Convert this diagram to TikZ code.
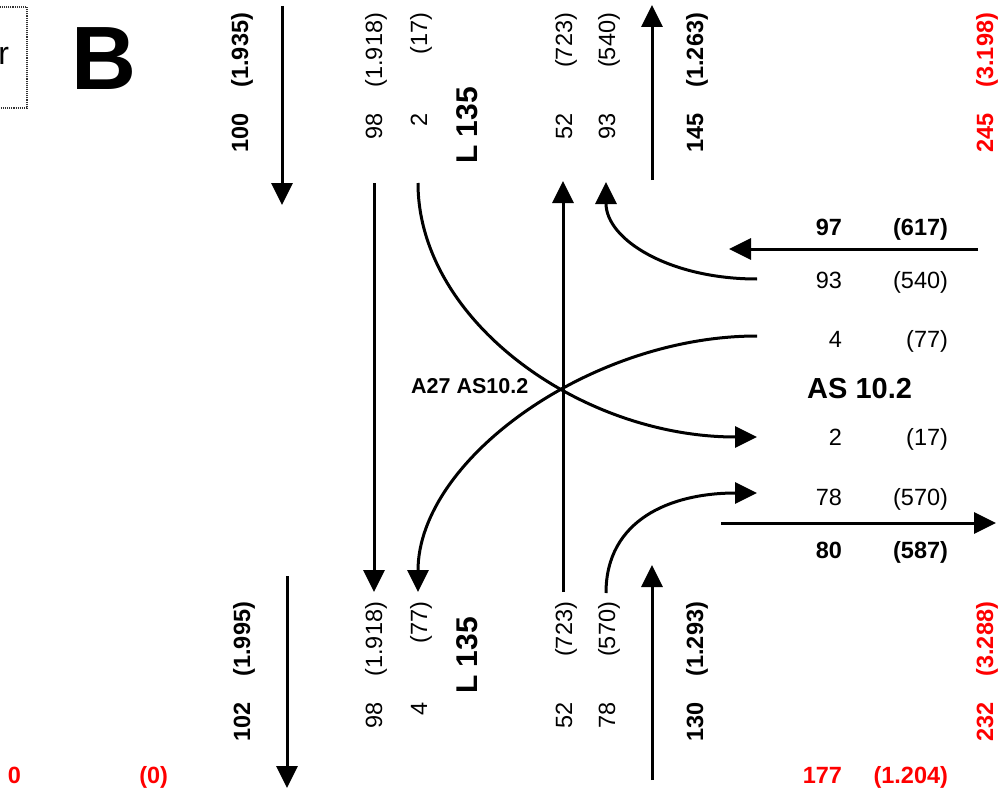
\documentclass[tikz,border=0pt]{standalone}
\usepackage{fontspec}
\setmainfont{Liberation Sans}
\usetikzlibrary{arrows.meta}
\tikzset{
  txt/.style={inner sep=0pt, outer sep=0pt, anchor=base east, font=\fontsize{23.5}{28}\selectfont},
  btxt/.style={txt, font=\fontsize{23.5}{28}\selectfont\bfseries},
  redtxt/.style={btxt, text=red},
  vtxt/.style={txt, rotate=90},
  vbtxt/.style={btxt, rotate=90},
  vredtxt/.style={redtxt, rotate=90},
  bigL/.style={inner sep=0pt, outer sep=0pt, anchor=base east, rotate=90, font=\fontsize{30}{34}\selectfont\bfseries},
  flow/.style={line width=3pt, -{Triangle[length=22pt,width=21pt]}},
  framebox/.style={draw=black!80, densely dotted, line width=1.1pt}
}
\begin{document}
\begin{tikzpicture}[x=1pt,y=-1pt]
\clip (0,0) rectangle (1004,789);
\fill[white] (0,0) rectangle (1004,789);

% corner box and panel letter
\draw[framebox] (-20,7) rectangle (27,108);
\node[inner sep=0pt, outer sep=0pt, anchor=base east, font=\fontsize{32}{36}\selectfont] (r) at (9,65) {r};
\node[inner sep=0pt, anchor=base west, font=\fontsize{90}{96}\selectfont\bfseries] (B) at (71,90) {B};

% top rotated labels
\node[vbtxt] (t100) at (248,113) {100};
\node[vbtxt] (t1935) at (248,13) {(1.935)};
\node[vtxt] (t98) at (382,113) {98};
\node[vtxt] (t1918) at (382,13) {(1.918)};
\node[vtxt] (t2) at (427,113) {2};
\node[vtxt] (t17) at (427,13) {(17)};
\node[bigL] (tL) at (477,87) {L 135};
\node[vtxt] (t52) at (572,113) {52};
\node[vtxt] (t723) at (572,13) {(723)};
\node[vtxt] (t93) at (615,113) {93};
\node[vtxt] (t540) at (615,13) {(540)};
\node[vbtxt] (t145) at (703,113) {145};
\node[vbtxt] (t1263) at (703,13) {(1.263)};
\node[vredtxt] (t245) at (993,113) {245};
\node[vredtxt] (t3198) at (993,13) {(3.198)};

% bottom rotated labels
\node[vbtxt] (b102) at (250,702) {102};
\node[vbtxt] (b1995) at (250,602) {(1.995)};
\node[vtxt] (b98) at (382,702) {98};
\node[vtxt] (b1918) at (382,602) {(1.918)};
\node[vtxt] (b4) at (427,702) {4};
\node[vtxt] (b77) at (427,602) {(77)};
\node[bigL] (bL) at (477,617) {L 135};
\node[vtxt] (b52) at (572,702) {52};
\node[vtxt] (b723) at (572,602) {(723)};
\node[vtxt] (b78) at (615,702) {78};
\node[vtxt] (b570) at (615,602) {(570)};
\node[vbtxt] (b130) at (703,702) {130};
\node[vbtxt] (b1293) at (703,602) {(1.293)};
\node[vredtxt] (b232) at (993,702) {232};
\node[vredtxt] (b3288) at (993,602) {(3.288)};

% right side labels
\node[btxt] (r97) at (842,235) {97};
\node[btxt] (r617) at (948,235) {(617)};
\node[txt] (r93) at (842,288) {93};
\node[txt] (r540) at (948,288) {(540)};
\node[txt] (r4) at (842,347) {4};
\node[txt] (r77) at (948,347) {(77)};
\node[inner sep=0pt, anchor=base west, font=\fontsize{29}{33}\selectfont\bfseries] (AS) at (807,398) {AS 10.2};
\node[txt] (r2) at (842,445) {2};
\node[txt] (r17) at (948,445) {(17)};
\node[txt] (r78) at (842,505) {78};
\node[txt] (r570) at (948,505) {(570)};
\node[btxt] (r80) at (842,558) {80};
\node[btxt] (r587) at (948,558) {(587)};

% crossing label
\node[inner sep=0pt, anchor=base west, font=\fontsize{21.5}{25}\selectfont\bfseries] (A27) at (411,393) {A27 AS10.2};

% red bottom labels
\node[redtxt] (z0) at (21,783) {0};
\node[redtxt] (z00) at (168,783) {(0)};
\node[redtxt] (z177) at (842,783) {177};
\node[redtxt] (z1204) at (948,783) {(1.204)};

% connector end points
\coordinate (a100s) at (282,6);   \coordinate (a100e) at (282,205);
\coordinate (a98s) at (374,183);  \coordinate (a98e) at (374,592);
\coordinate (c2s) at (418,183);   \coordinate (c2e) at (757,437);
\coordinate (a52s) at (563,592);  \coordinate (a52e) at (563,181);
\coordinate (c93s) at (757,279);  \coordinate (c93e) at (606,182);
\coordinate (c4s) at (757,336);   \coordinate (c4e) at (418,592);
\coordinate (c78s) at (606,593);  \coordinate (c78e) at (757,493);
\coordinate (a145s) at (652,180); \coordinate (a145e) at (652,5);
\coordinate (a130s) at (652,780); \coordinate (a130e) at (652,565);
\coordinate (a102s) at (287,576); \coordinate (a102e) at (287,788);
\coordinate (a97s) at (978,249);  \coordinate (a97e) at (729,249);
\coordinate (a80s) at (721,523);  \coordinate (a80e) at (996,523);

% straight flows
\draw[flow] (a100s) -- (a100e);
\draw[flow] (a98s) -- (a98e);
\draw[flow] (a52s) -- (a52e);
\draw[flow] (a145s) -- (a145e);
\draw[flow] (a130s) -- (a130e);
\draw[flow] (a102s) -- (a102e);
\draw[flow] (a97s) -- (a97e);
\draw[flow] (a80s) -- (a80e);

% curved flows
\draw[flow] (c2s) .. controls (418,320) and (580,437) .. (c2e);
\draw[flow] (c4s) .. controls (590,336) and (418,460) .. (c4e);
\draw[flow] (c93s) .. controls (670,279) and (606,240) .. (c93e);
\draw[flow] (c78s) .. controls (606,520) and (670,493) .. (c78e);
\end{tikzpicture}
\end{document}
